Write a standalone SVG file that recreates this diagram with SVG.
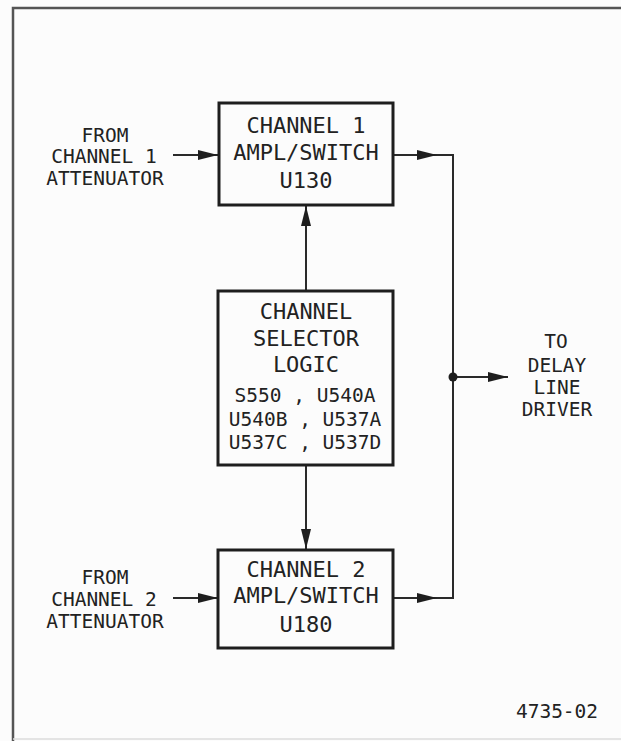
<svg xmlns="http://www.w3.org/2000/svg" width="621" height="741" viewBox="0 0 621 741">
<style>
.t{font-family:"DejaVu Sans Mono","Liberation Mono",monospace;fill:#222;text-anchor:middle}
.b{font-size:22px}
.s{font-size:19.5px}
.box{fill:none;stroke:#1e1e1e;stroke-width:3}
.w{fill:none;stroke:#2a2a2a;stroke-width:2}
</style>
<defs>
<marker id="ah" viewBox="0 0 20 10" refX="20" refY="5" markerWidth="20" markerHeight="10" markerUnits="userSpaceOnUse" orient="auto">
<path d="M0,0 L20,5 L0,10 Z" fill="#1e1e1e"/>
</marker>
</defs>
<rect width="621" height="741" fill="#fcfcfc"/>
<g id="frame" fill="none" stroke="#555" stroke-width="2.5">
<path d="M13,741 V8 H621"/>
<path d="M13,739 H621" stroke="#ddd" stroke-width="1.5"/>
</g>
<g id="connectors">
<line class="w" x1="173" y1="155" x2="218" y2="155" marker-end="url(#ah)"/>
<line class="w" x1="173" y1="598" x2="218" y2="598" marker-end="url(#ah)"/>
<line class="w" x1="393" y1="155" x2="437" y2="155" marker-end="url(#ah)"/>
<line class="w" x1="393" y1="598" x2="437" y2="598" marker-end="url(#ah)"/>
<path class="w" d="M437,155 H453 V598 H437"/>
<line class="w" x1="306" y1="291" x2="306" y2="206" marker-end="url(#ah)"/>
<line class="w" x1="306" y1="465" x2="306" y2="549" marker-end="url(#ah)"/>
<line class="w" x1="453" y1="377" x2="508" y2="377" marker-end="url(#ah)"/>
<circle cx="453" cy="377" r="4.5" fill="#1e1e1e"/>
</g>
<g id="ch1">
<rect class="box" x="219" y="103" width="174" height="102"/>
<text class="t b" x="306" y="133">CHANNEL 1</text>
<text class="t b" x="306" y="160">AMPL/SWITCH</text>
<text class="t b" x="306" y="188">U130</text>
</g>
<g id="selector">
<rect class="box" x="218" y="291" width="175" height="174"/>
<text class="t b" x="306" y="319">CHANNEL</text>
<text class="t b" x="306" y="346">SELECTOR</text>
<text class="t b" x="306" y="372">LOGIC</text>
<text class="t s" x="305" y="402">S550 , U540A</text>
<text class="t s" x="305" y="426">U540B , U537A</text>
<text class="t s" x="305" y="449">U537C , U537D</text>
</g>
<g id="ch2">
<rect class="box" x="218" y="550" width="175" height="98"/>
<text class="t b" x="306" y="577">CHANNEL 2</text>
<text class="t b" x="306" y="603">AMPL/SWITCH</text>
<text class="t b" x="306" y="632">U180</text>
</g>
<g id="in1">
<text class="t s" x="105" y="142">FROM</text>
<text class="t s" x="104" y="163">CHANNEL 1</text>
<text class="t s" x="105" y="185">ATTENUATOR</text>
</g>
<g id="in2">
<text class="t s" x="105" y="584">FROM</text>
<text class="t s" x="104" y="606">CHANNEL 2</text>
<text class="t s" x="105" y="628">ATTENUATOR</text>
</g>
<g id="out">
<text class="t s" x="556" y="348">TO</text>
<text class="t s" x="557" y="372">DELAY</text>
<text class="t s" x="557" y="394">LINE</text>
<text class="t s" x="557" y="416">DRIVER</text>
</g>
<text class="t s" x="557" y="718">4735-02</text>
</svg>
